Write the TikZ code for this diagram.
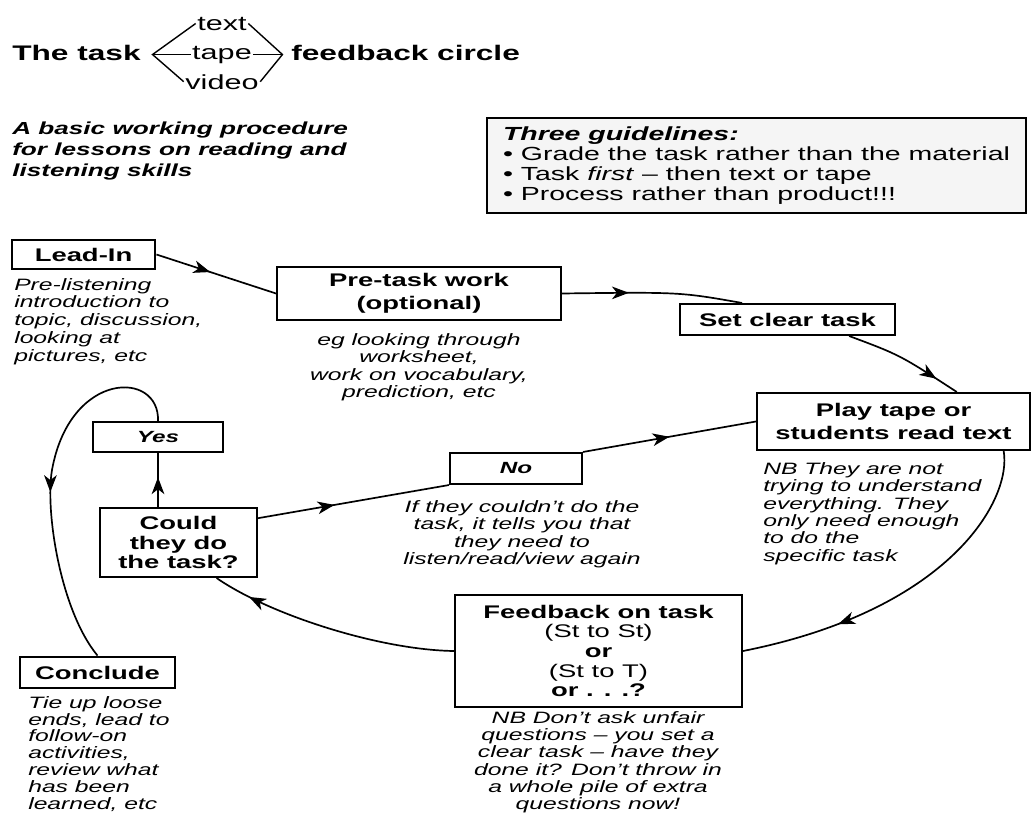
\documentclass[tikz,border=0pt]{standalone}
\usepackage{fontspec}
\setmainfont{Liberation Sans}[FakeStretch=1.5]
\usetikzlibrary{arrows.meta,decorations.markings}

\begin{document}
\begin{tikzpicture}[
        x=0.025cm, y=-0.025cm,
        box/.style={rectangle, draw, line width=1.3pt, inner sep=2pt, align=center, font=\fontsize{13}{16}\selectfont\bfseries},
        heavybox/.style={box, line width=1.9pt},
        answer/.style={box, font=\fontsize{11.5}{13}\selectfont\bfseries\itshape},
        note/.style={font=\fontsize{11.7}{12.4}\selectfont\itshape, inner sep=0pt},
        head/.style={font=\fontsize{15}{17}\selectfont\bfseries, inner sep=0pt, anchor=base west},
        medium/.style={font=\fontsize{14.5}{16}\selectfont, inner sep=1pt, anchor=base},
        link/.style={line width=1.2pt},
        arrowat/.style={link, decoration={markings, mark=at position #1 with {\arrow{Stealth[length=12pt, width=9pt, inset=3.5pt]}}}, postaction={decorate}},
        arrowat/.default=0.5
    ]
        \fill[white] (0,0) rectangle (1035,815);
        \useasboundingbox (0,0) rectangle (1035,815);

        \node[head] (title) at (12,60) {The task};
        \node[medium] (txt) at (222,30) {text};
        \node[medium] (tape) at (222,59) {tape};
        \node[medium] (vid) at (222,89) {video};
        \node[head] (circle) at (291,60) {feedback circle};
        \draw[line width=1pt] (tape.west) -- ++(-38,0) coordinate (ltip);
        \draw[line width=1pt] (tape.east) -- ++(29,0) coordinate (rtip);
        \draw[line width=1pt] (txt.west) -- (ltip) -- (vid.west);
        \draw[line width=1pt] (txt.east) -- (rtip) -- (vid.east);

        \node[font=\fontsize{12.4}{14.9}\selectfont\bfseries\itshape, align=left, anchor=north west, inner sep=0pt] (subtitle) at (12,122) {A basic working procedure\\for lessons on reading and\\listening skills};

        \node[box, fill=gray!8, font=\fontsize{13.5}{14.2}\selectfont, align=left, minimum width=13.48cm, minimum height=2.38cm] (guide) at (756.5,165.5) {\textbf{\textit{Three guidelines:}}\\
            • Grade the task rather than the material\\
            • Task \textit{first} -- then text or tape\\
            • Process rather than product!!!};

        \node[heavybox, minimum width=3.58cm, minimum height=0.73cm] (leadin) at (83.5,254.5) {Lead-In};
        \node[note, font=\fontsize{11.7}{12.6}\selectfont\itshape, anchor=north west, align=left] (leadinnote) at (14,278) {Pre-listening\\introduction to\\topic, discussion,\\looking at\\pictures, etc};

        \node[box, minimum width=7.1cm, minimum height=1.33cm] (pretask) at (419,293.5) {Pre-task work\\(optional)};
        \node[note, anchor=north, align=center] (pretasknote) at (419,333) {eg looking through\\worksheet,\\work on vocabulary,\\prediction, etc};

        \node[box, minimum width=5.38cm, minimum height=0.78cm] (setclear) at (787.5,319.5) {Set clear task};

        \node[box, minimum width=6.83cm, minimum height=1.43cm] (playtape) at (893.5,421.5) {Play tape or\\students read text};
        \node[note, anchor=north west, align=left] (playnote) at (763,462) {NB They are not\\trying to understand\\everything. They\\only need enough\\to do the\\specific task};

        \node[answer, minimum width=3.3cm, minimum height=0.78cm] (no) at (516,468.5) {No};
        \node[note, anchor=north, align=center] (nonote) at (522,500) {If they couldn't do the\\task, it tells you that\\they need to\\listen/read/view again};

        \node[answer, minimum width=3.25cm, minimum height=0.75cm] (yes) at (158,437) {Yes};
        \node[box, font=\fontsize{13}{14}\selectfont\bfseries, minimum width=3.93cm, minimum height=1.73cm] (could) at (178.5,542.5) {Could\\they do\\the task?};

        \node[box, font=\fontsize{13}{14}\selectfont, minimum width=7.18cm, minimum height=2.8cm] (feedback) at (598.5,651) {\textbf{Feedback on task}\\(St to St)\\\textbf{or}\\(St to T)\\\textbf{or . . .?}};
        \node[note, font=\fontsize{11.7}{12.3}\selectfont\itshape, anchor=north, align=center] (feedbacknote) at (598,711) {NB Don't ask unfair\\questions -- you set a\\clear task -- have they\\done it? Don't throw in\\a whole pile of extra\\questions now!};

        \node[heavybox, minimum width=3.88cm, minimum height=0.78cm] (conclude) at (97.5,672.5) {Conclude};
        \node[note, font=\fontsize{11.7}{12}\selectfont\itshape, anchor=north west, align=left] (concludenote) at (28,696) {Tie up loose\\ends, lead to\\follow-on\\activities,\\review what\\has been\\learned, etc};

        \draw[arrowat=0.45] (leadin.east) -- (pretask.west);
        \draw[arrowat=0.37] (pretask.east) .. controls (680,292) .. (setclear.160);
        \draw[arrowat=0.8] (setclear.-15) .. controls (900,355) .. (playtape.25);
        \draw[arrowat=0.72] (playtape.-15) .. controls (1012,500) and (950,610) .. (feedback.east);
        \draw[arrowat=0.85] (feedback.west) .. controls (380,650) and (270,615) .. (could.-43);
        \draw[arrowat=0.4] (could.17) -- (no.south west);
        \draw[arrowat=0.5] (no.north east) -- (playtape.west);
        \draw[arrowat=0.55] (could.north -| yes.south) -- (yes.south);
        \draw[arrowat=0.53] (yes.north) .. controls (160,370) and (70,370) .. (52,470) .. controls (45,510) and (60,610) .. (conclude.north);
    \end{tikzpicture}
\end{document}
